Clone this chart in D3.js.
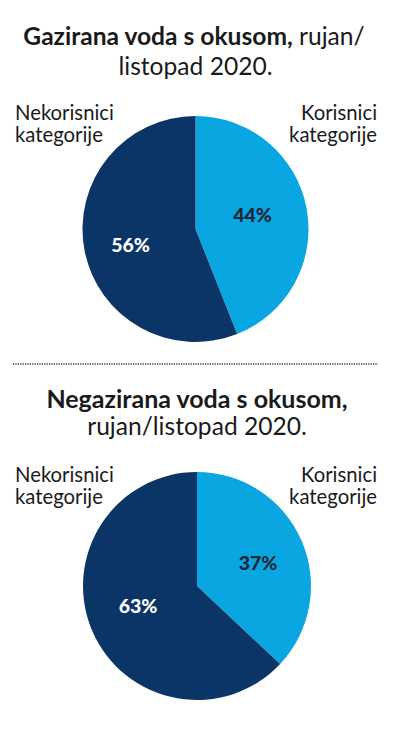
<!DOCTYPE html>
<html>
<head>
<meta charset="utf-8">
<script src="https://cdn.jsdelivr.net/npm/d3@7"></script>
<style>
  html, body { margin: 0; padding: 0; background: #fff; }
  svg { display: block; }
  text { font-family: Lato, "Open Sans", sans-serif; }
</style>
</head>
<body>
<svg id="chart" width="395" height="733"></svg>
<script>
// Data
const categories = ["Korisnici kategorije", "Nekorisnici kategorije"];
const chartTitlesBold = ["Gazirana voda s okusom,", "Negazirana voda s okusom,"];
const gaziranaValues = [44, 56];
const negaziranaValues = [37, 63];

const colors = ["#0aa6e1", "#0b3467"];
const labelColors = ["#1c2838", "#ffffff"];

const svg = d3.select("#chart");

const pie = d3.pie().sort(null).value(d => d);

function drawPie(values, cx, cy, r, labelPos) {
  const arc = d3.arc().innerRadius(0).outerRadius(r);
  const g = svg.append("g").attr("transform", `translate(${cx},${cy})`);
  const arcs = pie(values);
  g.selectAll("path").data(arcs).enter().append("path")
    .attr("d", arc)
    .attr("fill", (d, i) => colors[i]);
  g.selectAll("text.pct").data(arcs).enter().append("text")
    .attr("class", "pct")
    .attr("x", (d, i) => labelPos[i][0])
    .attr("y", (d, i) => labelPos[i][1])
    .attr("text-anchor", "middle")
    .attr("font-weight", 900)
    .attr("font-size", 19.5)
    .attr("fill", (d, i) => labelColors[i])
    .text(d => d.data + "%");
}

function catLabels(y) {
  const left = svg.append("text").attr("x", 15).attr("y", y).attr("font-size", 20.3).attr("fill", "#1a1a1a");
  left.append("tspan").attr("x", 15).text("Nekorisnici");
  left.append("tspan").attr("x", 15).attr("dy", 22).text("kategorije");
  const right = svg.append("text").attr("x", 377).attr("y", y).attr("font-size", 20.3).attr("fill", "#1a1a1a").attr("text-anchor", "end");
  right.append("tspan").attr("x", 377).text("Korisnici");
  right.append("tspan").attr("x", 377).attr("dy", 22).text("kategorije");
}

// Title 1
const t1 = svg.append("text").attr("x", 194).attr("y", 45).attr("text-anchor", "middle").attr("font-size", 24.6).attr("fill", "#1a1a1a");
t1.append("tspan").attr("font-weight", 700).text(chartTitlesBold[0]);
t1.append("tspan").attr("font-weight", 400).text(" rujan/");
svg.append("text").attr("x", 195.5).attr("y", 75).attr("text-anchor", "middle").attr("font-size", 24.6).attr("font-weight", 400).attr("fill", "#1a1a1a").text("listopad 2020.");

catLabels(120);
// label offsets relative to centre (from picture)
drawPie(gaziranaValues, 195.5, 229, 113, [[57, -7], [-65, 23]]);

// Divider
svg.append("line").attr("x1", 13).attr("x2", 378).attr("y1", 364).attr("y2", 364)
  .attr("stroke", "#333").attr("stroke-width", 1.5).attr("stroke-dasharray", "1.2,1.2");

// Title 2
svg.append("text").attr("x", 197).attr("y", 408).attr("text-anchor", "middle").attr("font-size", 25).attr("font-weight", 700).attr("fill", "#1a1a1a").text(chartTitlesBold[1]);
svg.append("text").attr("x", 197).attr("y", 435).attr("text-anchor", "middle").attr("font-size", 24.6).attr("font-weight", 400).attr("fill", "#1a1a1a").text("rujan/listopad 2020.");

catLabels(482);
drawPie(negaziranaValues, 197, 586, 114, [[61, -16], [-59, 27]]);
</script>
</body>
</html>
